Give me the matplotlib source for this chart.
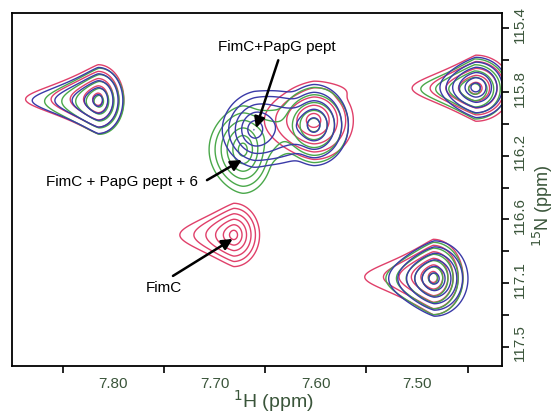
import numpy as np
import matplotlib
matplotlib.use("Agg")
import matplotlib.pyplot as plt
from matplotlib.ticker import FixedLocator
import matplotlib.transforms as mtransforms

plt.rcParams['font.family'] = ['Liberation Sans', 'DejaVu Sans']

# ---- data (ppm) ----
# peak parameters per spectrum: centre H, centre N, outer half-width left / right (H ppm),
# outer half-height (N ppm), number of contour rings, taper of the left tail
red_h = [7.815, 7.442, 7.602, 7.681, 7.484]
red_n = [115.862, 115.790, 116.000, 116.746, 117.020]
red_wl = [0.075, 0.065, 0.050, 0.055, 0.070]
red_wr = [0.026, 0.036, 0.040, 0.026, 0.030]
red_wy = [0.230, 0.220, 0.260, 0.210, 0.250]
red_nc = [5, 5, 5, 6, 6]
red_tp = [0.8, 0.9, 0.2, 0.6, 0.9]

green_h = [7.814, 7.443, 7.602, 7.672, 7.484]
green_n = [115.875, 115.795, 116.030, 116.190, 117.030]
green_wl = [0.056, 0.055, 0.036, 0.034, 0.048]
green_wr = [0.025, 0.032, 0.035, 0.030, 0.030]
green_wy = [0.220, 0.200, 0.250, 0.290, 0.240]
green_nc = [5, 5, 5, 6, 6]
green_tp = [0.6, 0.9, 0.1, 0.1, 0.5]

blue_h = [7.815, 7.442, 7.602, 7.661, 7.483]
blue_n = [115.870, 115.785, 116.030, 116.060, 117.030]
blue_wl = [0.068, 0.036, 0.040, 0.032, 0.046]
blue_wr = [0.025, 0.032, 0.035, 0.030, 0.034]
blue_wy = [0.220, 0.200, 0.270, 0.250, 0.250]
blue_nc = [5, 6, 5, 5, 6]
blue_tp = [0.8, 0.4, 0.1, 0.1, 0.4]

x_ticks = [7.80, 7.70, 7.60, 7.50]
x_minor = [7.85, 7.75, 7.65, 7.55, 7.45]
y_ticks = [115.4, 115.815, 116.23, 116.645, 117.06, 117.475]
y_labels = ['115.4', '115.8', '116.2', '116.6', '117.1', '117.5']
y_minor = [115.6075, 116.0225, 116.4375, 116.8525, 117.2675]

step = 0.32
colors = {'red': '#e0406a', 'green': '#4aa84a', 'blue': '#3a3aa8'}

H = np.linspace(7.90, 7.416, 700)
N = np.linspace(115.30, 117.60, 600)
HH, NN = np.meshgrid(H, N)


def solve_a(R, k):
    if k <= 1.0:
        return 0.0
    lo, hi = 1e-6, 50.0
    for _ in range(80):
        mid = 0.5 * (lo + hi)
        if np.log1p(mid * R * k) / mid > R:
            lo = mid
        else:
            hi = mid
    return 0.5 * (lo + hi)


def spectrum(hs, ns, wls, wrs, wys, ncs, tps):
    F = np.zeros_like(HH)
    for h0, n0, wl, wr, wy, nc, tp in zip(hs, ns, wls, wrs, wys, ncs, tps):
        R = nc * step - 0.05
        a = solve_a(R, wl / wr)
        dx = HH - h0
        d = np.abs(dx) / (wr / R)
        if a > 0:
            u = np.where(dx > 0, np.log1p(a * d) / a, d)
        else:
            u = d
        left = np.clip(dx / wl, 0, None)
        v = (NN - n0) / (wy / R) * (1 + tp * left)
        r = np.sqrt(u ** 2 + v ** 2)
        F += np.exp(R - r) * np.exp(-(r / (1.5 * R)) ** 8)
    return F


levels = np.exp(step * np.arange(0, 12))

fig = plt.figure(figsize=(5.55, 4.16), dpi=100)
ax = fig.add_axes([12 / 555, 50 / 416, 490 / 555, 353 / 416])

for name, args in [('red', (red_h, red_n, red_wl, red_wr, red_wy, red_nc, red_tp)),
                   ('green', (green_h, green_n, green_wl, green_wr, green_wy, green_nc, green_tp)),
                   ('blue', (blue_h, blue_n, blue_wl, blue_wr, blue_wy, blue_nc, blue_tp))]:
    F = spectrum(*args)
    ax.contour(HH, NN, F, levels=levels, colors=colors[name], linewidths=1.0)

ax.set_xlim(7.90, 7.416)
ax.set_ylim(117.60, 115.30)

tick_color = '#3a553a'
ax.xaxis.set_major_locator(FixedLocator(x_ticks))
ax.xaxis.set_minor_locator(FixedLocator(x_minor))
ax.set_xticklabels(['%.2f' % t for t in x_ticks])
ax.tick_params(axis='x', which='major', length=0, pad=8, labelsize=11, labelcolor=tick_color)
ax.tick_params(axis='x', which='minor', length=5, width=1.2, direction='out')

ax.yaxis.tick_right()
ax.yaxis.set_label_position('right')
ax.yaxis.set_major_locator(FixedLocator(y_ticks))
ax.yaxis.set_minor_locator(FixedLocator(y_minor))
ax.set_yticklabels(y_labels, rotation=90, va='center')
ax.tick_params(axis='y', which='both', length=5, width=1.2, direction='out',
               labelsize=11, labelcolor=tick_color, pad=3)
offset = mtransforms.ScaledTranslation(0, 4 / 100, fig.dpi_scale_trans)
for lab in ax.get_yticklabels():
    lab.set_transform(lab.get_transform() + offset)

for sp in ax.spines.values():
    sp.set_linewidth(1.3)

ax.set_xlabel('$^{1}$H (ppm)', fontsize=14, color=tick_color)
ax.xaxis.set_label_coords(0.533, -0.062)
ax.set_ylabel('$^{15}$N (ppm)', fontsize=13, color=tick_color, rotation=90)
ax.yaxis.set_label_coords(1.058, 0.453)

arrow = dict(arrowstyle='-|>', lw=1.8, color='black', mutation_scale=16, shrinkA=0, shrinkB=0)
ax.text(7.638, 115.523, 'FimC+PapG pept', ha='center', va='center', fontsize=11)
ax.annotate('', xy=(7.659, 116.050), xytext=(7.637, 115.608), arrowprops=arrow)
ax.text(7.791, 116.402, 'FimC + PapG pept + 6', ha='center', va='center', fontsize=11)
ax.annotate('', xy=(7.673, 116.258), xytext=(7.7074, 116.389), arrowprops=arrow)
ax.text(7.750, 117.091, 'FimC', ha='center', va='center', fontsize=11)
ax.annotate('', xy=(7.682, 116.772), xytext=(7.741, 117.013), arrowprops=arrow)

fig.savefig('out.png', dpi=100)
